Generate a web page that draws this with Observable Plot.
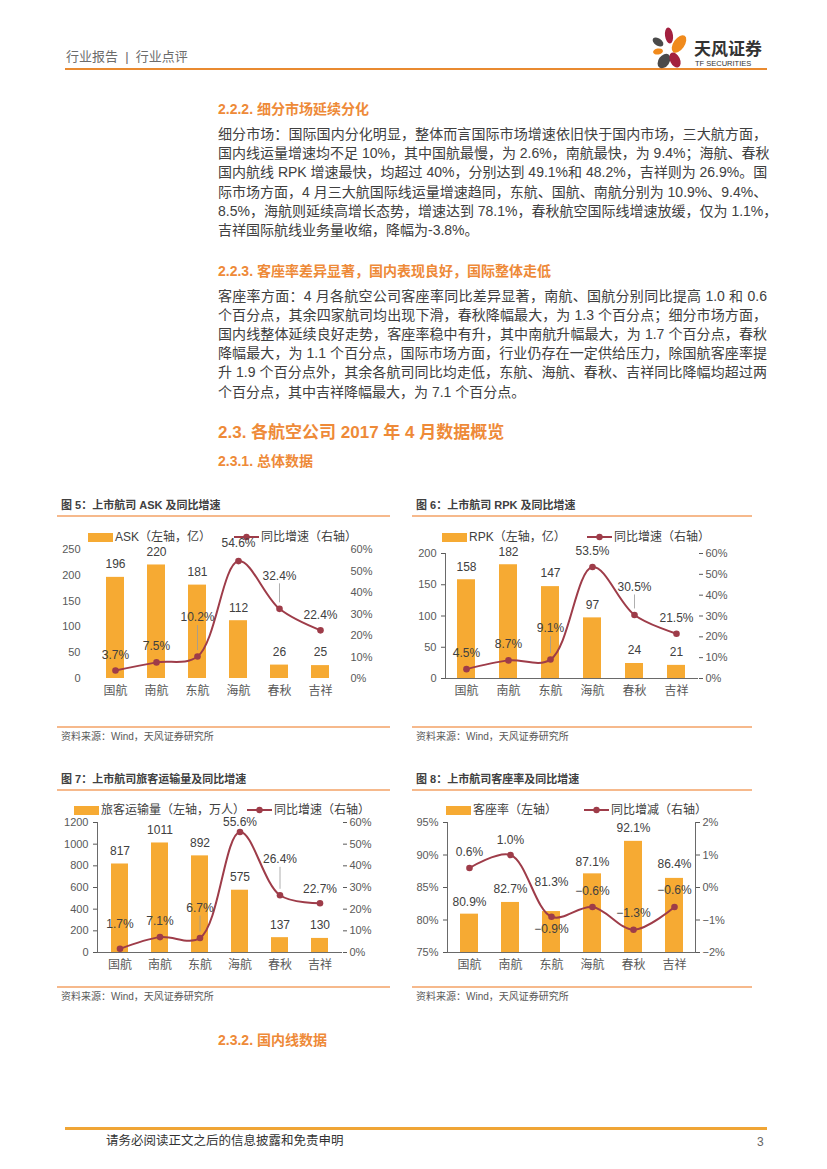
<!DOCTYPE html>
<html><head><meta charset="utf-8">
<script src="https://cdn.jsdelivr.net/npm/d3@7"></script>
<script src="https://cdn.jsdelivr.net/npm/@observablehq/plot@0.6"></script>
<style>
html,body{margin:0;padding:0;background:#fff}
body{width:827px;height:1169px;position:relative;overflow:hidden;font-family:"Liberation Sans","Noto Sans CJK SC",sans-serif;color:#404040}
.abs{position:absolute;white-space:nowrap}
.ln{position:absolute;left:218px;width:549px;font-size:14px;line-height:19px;height:19px;text-align:justify;text-align-last:justify;white-space:nowrap;color:#404040}
.ln.last{text-align-last:left}
.h{position:absolute;left:218px;color:#EE8A38;font-weight:bold;font-size:14px;line-height:18px;white-space:nowrap}
.rule{position:absolute;height:2px;background:#F6B98C}
.ftitle{position:absolute;font-size:11px;font-weight:bold;color:#404040;line-height:14px;white-space:nowrap}
.src{position:absolute;font-size:10px;color:#595959;line-height:12px;white-space:nowrap}
.leg{position:absolute;font-size:12px;color:#404040;line-height:14px;white-space:nowrap;display:flex;align-items:center}
.sw{display:inline-block;width:25px;height:9px;background:#F6AA33;margin-right:2px}
.chart{position:absolute}
</style>
</head><body>
<div id="page"></div>
<script>
// ---------- data ----------
const airlines = ["国航","南航","东航","海航","春秋","吉祥"];
const askValues = [196,220,181,112,26,25];
const askGrowth = [3.7,7.5,10.2,54.6,32.4,22.4];
const rpkValues = [158,182,147,97,24,21];
const rpkGrowth = [4.5,8.7,9.1,53.5,30.5,21.5];
const paxValues = [817,1011,892,575,137,130];
const paxGrowth = [1.7,7.1,6.7,55.6,26.4,22.7];
const loadFactor = [80.9,82.7,81.3,87.1,92.1,86.4];
const loadFactorChange = [0.6,1.0,-0.9,-0.6,-1.3,-0.6];

const askTicks = [0,50,100,150,200,250];
const rpkTicks = [0,50,100,150,200];
const paxTicks = [0,200,400,600,800,1000,1200];
const lfTicks = [75,80,85,90,95];
const growthTicks = [0,10,20,30,40,50,60];
const lfChangeTicks = [-2,-1,0,1,2];

const para1 = [
  "细分市场：国际国内分化明显，整体而言国际市场增速依旧快于国内市场，三大航方面，",
  "国内线运量增速均不足 10%，其中国航最慢，为 2.6%，南航最快，为 9.4%；海航、春秋",
  "国内航线 RPK 增速最快，均超过 40%，分别达到 49.1%和 48.2%，吉祥则为 26.9%。国",
  "际市场方面，4 月三大航国际线运量增速趋同，东航、国航、南航分别为 10.9%、9.4%、",
  "8.5%，海航则延续高增长态势，增速达到 78.1%，春秋航空国际线增速放缓，仅为 1.1%，",
  "吉祥国际航线业务量收缩，降幅为-3.8%。"
];
const para2 = [
  "客座率方面：4 月各航空公司客座率同比差异显著，南航、国航分别同比提高 1.0 和 0.6",
  "个百分点，其余四家航司均出现下滑，春秋降幅最大，为 1.3 个百分点；细分市场方面，",
  "国内线整体延续良好走势，客座率稳中有升，其中南航升幅最大，为 1.7 个百分点，春秋",
  "降幅最大，为 1.1 个百分点，国际市场方面，行业仍存在一定供给压力，除国航客座率提",
  "升 1.9 个百分点外，其余各航司同比均走低，东航、海航、春秋、吉祥同比降幅均超过两",
  "个百分点，其中吉祥降幅最大，为 7.1 个百分点。"
];

// ---------- page ----------
const page = document.getElementById("page");
function add(html){ page.insertAdjacentHTML("beforeend", html); }

// header
add(`<div class="abs" style="left:66px;top:49px;font-size:13px;line-height:16px;color:#6b6b6b">行业报告&nbsp;&nbsp;|&nbsp;&nbsp;行业点评</div>`);
add(`<div class="abs" style="left:65px;top:68px;width:702px;height:2px;background:#E98A30"></div>`);
add(`<svg class="abs" style="left:645px;top:22px" width="50" height="52" viewBox="645 22 50 52">
  <ellipse cx="669" cy="35.5" rx="4" ry="8" fill="#A3203F" transform="rotate(-8 669 35.5)"/>
  <ellipse cx="679" cy="44" rx="5.5" ry="10" fill="#F08A1C" transform="rotate(35 679 44)"/>
  <ellipse cx="658" cy="42" rx="6" ry="3.6" fill="#4a4a4a" transform="rotate(35 658 42)"/>
  <ellipse cx="658" cy="51.5" rx="5" ry="3" fill="#F08A1C" transform="rotate(-10 658 51.5)"/>
  <ellipse cx="664" cy="61" rx="5.5" ry="8" fill="#4a4a4a" transform="rotate(35 664 61)"/>
  <ellipse cx="675" cy="60" rx="5" ry="8" fill="#A3203F" transform="rotate(-25 675 60)"/>
</svg>`);
add(`<div class="abs" style="left:694px;top:38px;font-size:17px;line-height:20px;font-weight:bold;color:#333;font-family:'Noto Sans CJK SC'">天风证券</div>`);
add(`<div class="abs" style="left:695px;top:59px;font-size:7.5px;line-height:9px;color:#333">TF SECURITIES</div>`);

// headings and paragraphs
add(`<div class="h" style="top:100px">2.2.2. 细分市场延续分化</div>`);
para1.forEach((t,i)=>add(`<div class="ln${i===para1.length-1?' last':''}" style="top:${125+i*19.2}px">${t}</div>`));
add(`<div class="h" style="top:262px">2.2.3. 客座率差异显著，国内表现良好，国际整体走低</div>`);
para2.forEach((t,i)=>add(`<div class="ln${i===para2.length-1?' last':''}" style="top:${287+i*19.1}px">${t}</div>`));
add(`<div class="h" style="top:423px;font-size:17px;line-height:20px">2.3. 各航空公司 2017 年 4 月数据概览</div>`);
add(`<div class="h" style="top:452px">2.3.1. 总体数据</div>`);
add(`<div class="h" style="top:1031px">2.3.2. 国内线数据</div>`);

// footer
add(`<div class="abs" style="left:65px;top:1127px;width:702px;height:3px;background:#F0A535"></div>`);
add(`<div class="abs" style="left:106px;top:1134px;font-size:12.5px;line-height:15px;color:#333">请务必阅读正文之后的信息披露和免责申明</div>`);
add(`<div class="abs" style="left:757px;top:1135px;font-size:12px;line-height:14px;color:#666">3</div>`);

// figure frames
function frameBlock(x, w, titleY, title, bottomY){
  add(`<div class="ftitle" style="left:${x+4}px;top:${titleY-7}px">${title}</div>`);
  add(`<div class="rule" style="left:${x}px;top:${titleY+10}px;width:${w}px"></div>`);
  add(`<div class="rule" style="left:${x}px;top:${bottomY}px;width:${w}px"></div>`);
  add(`<div class="src" style="left:${x+4}px;top:${bottomY+5}px">资料来源：Wind，天风证券研究所</div>`);
}
frameBlock(57, 333, 505, "图 5：上市航司 ASK 及同比增速", 726);
frameBlock(412, 340, 505, "图 6：上市航司 RPK 及同比增速", 726);
frameBlock(57, 333, 779, "图 7：上市航司旅客运输量及同比增速", 986);
frameBlock(412, 340, 779, "图 8：上市航司客座率及同比增速", 986);

const BAR = "#F6AA33", LINE = "#9E3C49", AX = "#6a6a6a", LAB = "#404040";

function legend(x1, t1, x2, t2, y){
  add(`<div class="leg" style="left:${x1}px;top:${y-7}px"><span class="sw"></span>${t1}</div>`);
  add(`<div class="leg" style="left:${x2}px;top:${y-7}px"><svg width="25" height="10" style="margin-right:2px"><line x1="0" y1="5" x2="25" y2="5" stroke="${LINE}" stroke-width="2"/><circle cx="12.5" cy="5" r="3.2" fill="${LINE}"/></svg>${t2}</div>`);
}
legend(88, "ASK（左轴，亿）", 234, "同比增速（右轴）", 537);
legend(442, "RPK（左轴，亿）", 587, "同比增速（右轴）", 537);
legend(74, "旅客运输量（左轴，万人）", 247, "同比增速（右轴）", 810);
legend(446, "客座率（左轴）", 584, "同比增减（右轴）", 810);

const pct = v => (v < 0 ? "−" : "") + Math.abs(v).toFixed(1) + "%";

function chart(cfg){
  const ih = cfg.height - cfg.mt - cfg.mb;
  const ppu = ih / (cfg.domain[1] - cfg.domain[0]);
  const rows = airlines.map((a,i)=>({
    cat:a, v:cfg.values[i], g:cfg.growth[i], ly:cfg.toLeft(cfg.growth[i]),
    bo:cfg.barOff[i], lo:cfg.lineOff[i], leader:cfg.leaders.includes(i)
  }));
  const marks = [];
  marks.push(Plot.barY(rows, {x:"cat", y1:() => cfg.domain[0], y2:"v", fill:BAR}));
  if (cfg.bottomLine) marks.push(Plot.ruleY([cfg.domain[0]], {stroke:AX, strokeWidth:1}));
  if (cfg.leftLine) marks.push(Plot.frame({anchor:"left", stroke:AX}));
  if (cfg.rightLine) marks.push(Plot.frame({anchor:"right", stroke:AX}));
  marks.push(Plot.axisY(cfg.leftTicks, {anchor:"left", tickSize:cfg.leftTickSize, tickPadding:cfg.leftPad, tickFormat:cfg.leftFmt, fontSize:11, label:null}));
  marks.push(Plot.axisY(cfg.rightTicks.map(cfg.toLeft), {anchor:"right", tickSize:cfg.rightTickSize, tickPadding:cfg.rightPad, tickFormat:d => cfg.rightFmt(cfg.fromLeft(d)), fontSize:11, label:null}));
  marks.push(Plot.axisX({tickSize:0, tickPadding:8, fontSize:12, label:null}));
  marks.push(Plot.ruleX(rows.filter(d=>d.leader), {x:"cat", y1:d => d.ly + 6/ppu, y2:d => d.ly + (d.lo-8)/ppu, stroke:"#9a9a9a", strokeWidth:0.8}));
  marks.push(Plot.line(rows, {x:"cat", y:"ly", stroke:LINE, strokeWidth:2, curve:"catmull-rom"}));
  marks.push(Plot.dot(rows, {x:"cat", y:"ly", r:3.3, fill:LINE, stroke:null}));
  marks.push(Plot.text(rows, {x:"cat", y:d => d.v + d.bo/ppu, text:d => cfg.barFmt(d.v), fontSize:12, fill:LAB}));
  marks.push(Plot.text(rows, {x:"cat", y:d => d.ly + d.lo/ppu, text:d => pct(d.g), fontSize:12, fill:LAB}));
  const svg = Plot.plot({
    width:cfg.width, height:cfg.height,
    marginTop:cfg.mt, marginBottom:cfg.mb, marginLeft:cfg.ml, marginRight:cfg.mr,
    x:{type:"band", domain:airlines, paddingInner:0.57, paddingOuter:0.285, label:null},
    y:{domain:cfg.domain, label:null},
    style:{fontFamily:"'Liberation Sans','Noto Sans CJK SC',sans-serif", color:"#595959", background:"transparent", fontSize:"11px", overflow:"visible"},
    marks
  });
  svg.classList.add("chart");
  svg.style.left = cfg.left + "px";
  svg.style.top = cfg.top + "px";
  svg.style.position = "absolute";
  svg.style.overflow = "visible";
  page.appendChild(svg);
}

const intFmt = d => String(d);

// Figure 5
chart({
  values:askValues, growth:askGrowth, domain:[0,250], leftTicks:askTicks, rightTicks:growthTicks,
  toLeft:v => v*250/60, fromLeft:d => d*60/250,
  leftFmt:intFmt, rightFmt:v => Math.round(v) + "%",
  barFmt:intFmt, barOff:[13,13,13,13,13,13], lineOff:[15,16,39,18,33,15], leaders:[2,4],
  left:55, top:541, width:335, height:169, mt:8, mb:32, ml:37, mr:48,
  leftTickSize:0, leftPad:12, rightTickSize:0, rightPad:8,
  leftLine:false, rightLine:false, bottomLine:false
});
// Figure 6
chart({
  values:rpkValues, growth:rpkGrowth, domain:[0,200], leftTicks:rpkTicks, rightTicks:growthTicks,
  toLeft:v => v*200/60, fromLeft:d => d*60/200,
  leftFmt:intFmt, rightFmt:v => Math.round(v) + "%",
  barFmt:intFmt, barOff:[13,13,13,13,13,13], lineOff:[16,16,31,16,28,16], leaders:[2,4],
  left:410, top:549, width:340, height:161, mt:4, mb:32, ml:35, mr:52,
  leftTickSize:4, leftPad:5, rightTickSize:4, rightPad:3,
  leftLine:true, rightLine:false, bottomLine:true
});
// Figure 7
chart({
  values:paxValues, growth:paxGrowth, domain:[0,1200], leftTicks:paxTicks, rightTicks:growthTicks,
  toLeft:v => v*1200/60, fromLeft:d => d*60/1200,
  leftFmt:intFmt, rightFmt:v => Math.round(v) + "%",
  barFmt:intFmt, barOff:[13,13,13,13,13,13], lineOff:[25,16,30,10,36,14], leaders:[2,4],
  left:55, top:819, width:335, height:166, mt:3, mb:33, ml:42, mr:48,
  leftTickSize:4, leftPad:5, rightTickSize:4, rightPad:3,
  leftLine:true, rightLine:false, bottomLine:true
});
// Figure 8
chart({
  values:loadFactor, growth:loadFactorChange, domain:[75,95], leftTicks:lfTicks, rightTicks:lfChangeTicks,
  toLeft:v => 85 + v*5, fromLeft:d => (d-85)/5,
  leftFmt:d => d + "%", rightFmt:v => { const r = Math.round(v); return (r < 0 ? "−" : "") + Math.abs(r) + "%"; },
  barFmt:v => v.toFixed(1) + "%", barOff:[12,13,29,12,13,14], lineOff:[16,15,-12,16,17,17], leaders:[],
  left:410, top:815, width:340, height:170, mt:7, mb:33, ml:37, mr:55,
  leftTickSize:4, leftPad:5, rightTickSize:4, rightPad:3,
  leftLine:true, rightLine:true, bottomLine:true
});
</script>
</body></html>
